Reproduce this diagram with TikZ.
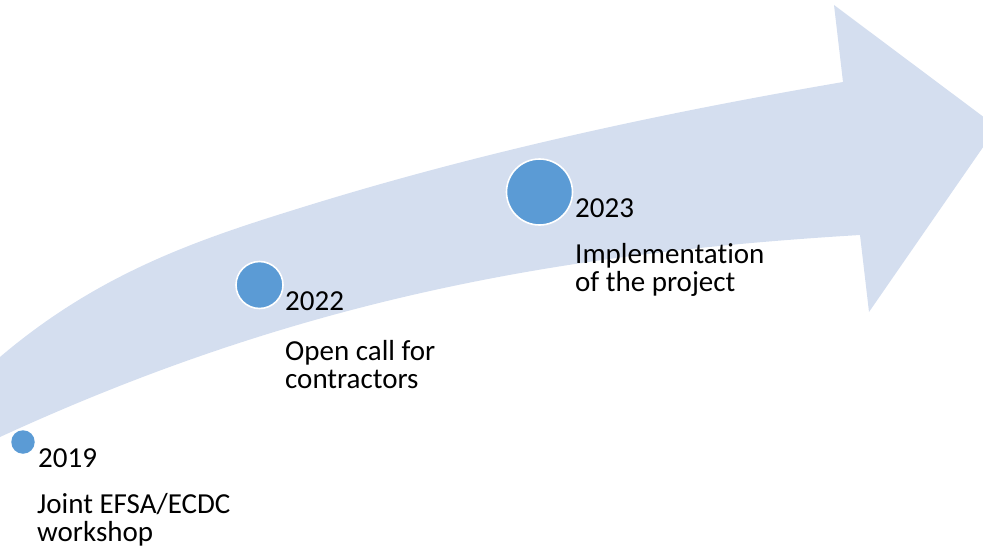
\documentclass[tikz,border=0pt]{standalone}
\usepackage{fontspec}
\setmainfont{Carlito}[Ligatures=NoCommon,Contextuals=AlternateOff]
\definecolor{band}{RGB}{212,222,239}
\definecolor{dot}{RGB}{91,155,213}
\begin{document}
\begin{tikzpicture}[x=1pt,y=-1pt,
  dotstyle/.style={circle,fill=dot,draw=white,line width=1.6pt,inner sep=0pt},
  yearlabel/.style={anchor=base west,inner sep=0pt,font=\fontsize{29}{28}\selectfont},
  desclabel/.style={anchor=base west,inner sep=0pt,align=left,font=\fontsize{29}{28}\selectfont}]
\useasboundingbox (0,0) rectangle (983,551);
\clip (0,0) rectangle (983,551);
% curved arrow
\fill[band] (-40,392) -- (0,357) .. controls (100,272) and (200,239) .. (300,208)
  .. controls (480,152) and (662,113) .. (843,82)
  -- (834,5) -- (997,127) -- (869,312) -- (860,235)
  .. controls (560,253) and (300,299) .. (0,437) -- (-40,455) -- cycle;
% milestones
\node[dotstyle,minimum size=23.5pt,draw=none] (d2019) at (23,442) {};
\node[dotstyle,minimum size=47pt] (d2022) at (259.5,285) {};
\node[dotstyle,minimum size=66pt] (d2023) at (539.5,192) {};
\node[yearlabel] (y2019) at (38,467) {2019};
\node[desclabel] (t2019) at (37,541) {Joint EFSA/ECDC\\workshop};
\node[yearlabel] (y2022) at (285,310) {2022};
\node[desclabel] (t2022) at (285,388) {Open call for\\contractors};
\node[yearlabel] (y2023) at (575,217) {2023};
\node[desclabel] (t2023) at (575,291) {Implementat\kern0pt ion\\of the project};
\end{tikzpicture}
\end{document}
